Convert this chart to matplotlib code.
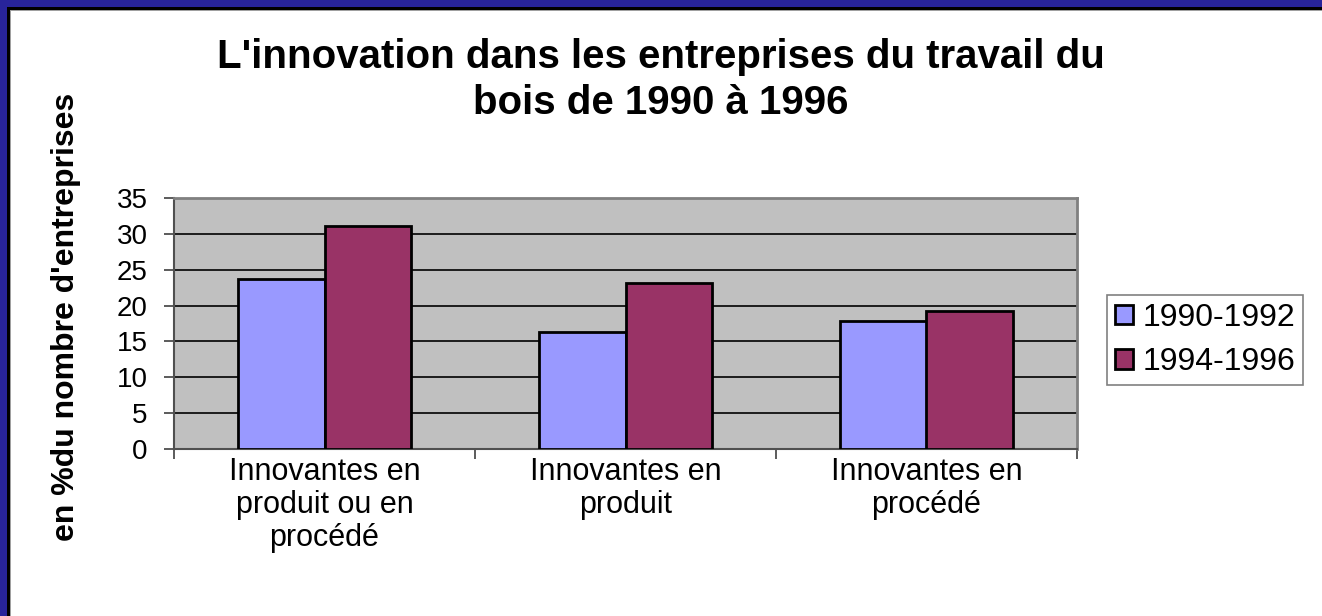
import matplotlib
matplotlib.use('Agg')
import numpy as np
from matplotlib import pyplot as plt
from matplotlib.patches import Rectangle

categories = ['Innovantes en\nproduit ou en\nprocédé', 'Innovantes en\nproduit', 'Innovantes en\nprocédé']
series_names = ['1990-1992', '1994-1996']
v_1990_1992 = [23.7, 16.3, 17.9]
v_1994_1996 = [31.1, 23.1, 19.2]
yticks = [0, 5, 10, 15, 20, 25, 30, 35]

W, H = 1322, 616
plt.rcParams['font.family'] = ['Liberation Sans', 'DejaVu Sans']

fig = plt.figure(figsize=(W / 100, H / 100), dpi=100)
fig.patch.set_facecolor('white')

# cadre bleu a gauche et en haut
def px_rect(x, y, w, h, color):
    fig.add_artist(Rectangle((x / W, 1 - (y + h) / H), w / W, h / H,
                             transform=fig.transFigure, facecolor=color,
                             edgecolor='none', zorder=0))

px_rect(0, 0, 7, H, '#28249b')
px_rect(0, 0, W, 7, '#28249b')
px_rect(7, 7, 3, H - 7, 'black')
px_rect(7, 7, W - 7, 3, 'black')
px_rect(10, 10, 1, H - 10, '#a0a0a0')
px_rect(10, 10, W - 10, 1, '#a0a0a0')

ax = fig.add_axes([174 / W, 1 - 449 / H, (1077 - 174) / W, (449 - 198) / H])
ax.set_facecolor('#c0c0c0')

x = np.arange(len(categories))
w = 0.286
b1 = ax.bar(x - w / 2, v_1990_1992, w, color='#9999ff', edgecolor='black', linewidth=2, zorder=3, label=series_names[0])
b2 = ax.bar(x + w / 2, v_1994_1996, w, color='#993366', edgecolor='black', linewidth=2, zorder=3, label=series_names[1])

ax.set_xlim(-0.5, 2.5)
ax.set_ylim(0, 35)
ax.set_yticks(yticks)
ax.yaxis.grid(True, color='black', linewidth=1.2, zorder=1)
ax.set_axisbelow(True)

ax.set_xticks([-0.5, 0.5, 1.5, 2.5])
ax.set_xticklabels([])
ax.set_xticks(x, minor=True)
ax.set_xticklabels(categories, minor=True, fontsize=22, linespacing=1.12)
ax.tick_params(axis='x', which='minor', length=0, pad=6)
ax.tick_params(axis='x', which='major', length=7, width=1.2, color='#404040')
ax.tick_params(axis='y', length=7, width=1.2, color='#404040', labelsize=20, pad=12)

for s in ['top', 'right']:
    ax.spines[s].set_color('#808080')
    ax.spines[s].set_linewidth(2)
for s in ['left', 'bottom']:
    ax.spines[s].set_color('#505050')
    ax.spines[s].set_linewidth(1.5)

fig.text(0.5, 1 - 80 / H, "L'innovation dans les entreprises du travail du\nbois de 1990 à 1996",
         ha='center', va='center', fontsize=29, fontweight='bold', linespacing=1.3)
fig.text(66 / W, 1 - 317 / H, "en %du nombre d'entreprises", rotation=90,
         ha='center', va='center', fontsize=23, fontweight='bold')

leg = fig.legend(handles=[b1, b2], loc='upper left', bbox_to_anchor=(1107 / W, 1 - 295 / H),
                 fontsize=23, frameon=True, fancybox=False, edgecolor='#606060',
                 handlelength=0.55, handleheight=0.55, handletextpad=0.3,
                 borderpad=0.25, labelspacing=0.45, borderaxespad=0)
leg.get_frame().set_linewidth(1.2)

fig.savefig('out.png', dpi=100)
